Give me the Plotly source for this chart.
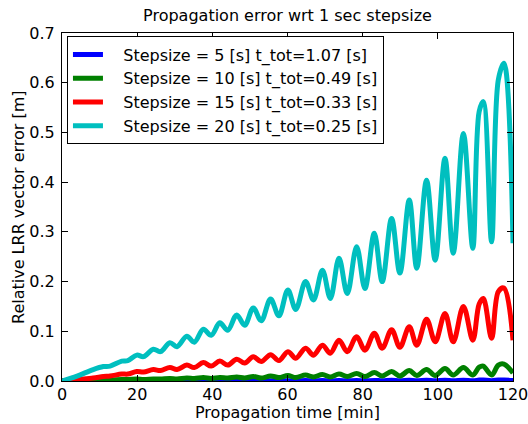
import plotly.graph_objects as go

t = [0, 4, 8.3, 11, 12.8, 15.9, 17.5, 19.9, 21.7, 24.3, 26.2, 28.7, 30.6, 33.2, 35.2,
     37.6, 39.7, 42.0, 44.1, 46.5, 48.6, 50.9, 53.0, 55.5, 57.7, 60.1, 62.2, 64.8,
     66.9, 69.3, 71.4, 73.7, 75.9, 78.4, 80.6, 83.1, 85.2, 87.7, 89.9, 92.4, 94.4,
     97.0, 99.3, 101.9, 104.1, 106.8, 109.3, 111.0, 112.1, 114.3, 116.1, 117.6, 120]

err_5 = [0, 0, 0, 0, 0, 0, 0, 0, 0, 0, 0, 0, 0, 0, 0,
         0, 0, 0.0005, 0, 0.0005, 0, 0.0005, 0, 0.0006, 0.0001, 0.0007, 0.0001, 0.0008,
         0.0002, 0.0009, 0.0002, 0.0010, 0.0003, 0.0011, 0.0003, 0.0012, 0.0004, 0.0013, 0.0004, 0.0014, 0.0005,
         0.0015, 0.0005, 0.0016, 0.0006, 0.0017, 0.0006, 0.0018, 0.0019, 0.0007, 0.0020, 0.0021, 0.0010]

err_10 = [0, 0.001, 0.002, 0.002, 0.002, 0.003, 0.003, 0.004, 0.003, 0.004, 0.004, 0.005, 0.004, 0.006, 0.005,
          0.007, 0.005, 0.007, 0.006, 0.008, 0.006, 0.009, 0.006, 0.010, 0.007, 0.011, 0.007, 0.012,
          0.008, 0.013, 0.008, 0.014, 0.009, 0.015, 0.009, 0.017, 0.010, 0.019, 0.010, 0.021, 0.011,
          0.023, 0.011, 0.025, 0.012, 0.027, 0.012, 0.028, 0.030, 0.012, 0.032, 0.034, 0.016]

err_15 = [0, 0.003, 0.006, 0.009, 0.010, 0.014, 0.014, 0.019, 0.018, 0.023, 0.021, 0.027, 0.023, 0.032, 0.027,
          0.037, 0.030, 0.040, 0.032, 0.044, 0.036, 0.049, 0.039, 0.053, 0.041, 0.059, 0.046, 0.066,
          0.052, 0.072, 0.056, 0.082, 0.059, 0.089, 0.062, 0.096, 0.066, 0.103, 0.068, 0.109, 0.072,
          0.124, 0.079, 0.136, 0.079, 0.150, 0.082, 0.155, 0.166, 0.086, 0.180, 0.187, 0.082]

err_20 = [0, 0.010, 0.023, 0.029, 0.030, 0.040, 0.041, 0.052, 0.049, 0.064, 0.059, 0.077, 0.069, 0.090, 0.078,
          0.104, 0.092, 0.117, 0.102, 0.133, 0.112, 0.147, 0.121, 0.165, 0.131, 0.183, 0.144, 0.200,
          0.163, 0.223, 0.166, 0.247, 0.176, 0.270, 0.186, 0.297, 0.200, 0.327, 0.217, 0.364, 0.227,
          0.404, 0.243, 0.448, 0.257, 0.498, 0.267, 0.542, 0.562, 0.280, 0.606, 0.639, 0.277]

names = ["Stepsize = 5 [s] t_tot=1.07 [s]",
         "Stepsize = 10 [s] t_tot=0.49 [s]",
         "Stepsize = 15 [s] t_tot=0.33 [s]",
         "Stepsize = 20 [s] t_tot=0.25 [s]"]
colors = ["#0000ff", "#008000", "#ff0000", "#00bfbf"]
series = [err_5, err_10, err_15, err_20]

title_text = "Propagation error wrt 1 sec stepsize"
xlabel = "Propagation time [min]"
ylabel = "Relative LRR vector error [m]"

FONT = "DejaVu Sans"
PAD = "\u00a0\u00a0\u00a0"
fig = go.Figure()
for i, (nm, col, ys) in enumerate(zip(names, colors, series)):
    fig.add_trace(go.Scatter(x=t, y=ys, mode="lines", name=PAD + nm, legendgroup=str(i),
                             line=dict(color=col, width=5, shape="spline", smoothing=1.0)))

axis_common = dict(showline=True, linecolor="black", linewidth=1, mirror="allticks",
                   ticks="inside", ticklen=6, tickcolor="black", showgrid=False,
                   zeroline=False, automargin=False, ticklabeloverflow="allow",
                   tickfont=dict(family=FONT, size=16, color="black"))

fig.update_layout(
    width=528, height=424,
    margin=dict(l=62, r=15, t=33, b=43),
    paper_bgcolor="white", plot_bgcolor="white",
    font=dict(family=FONT, size=16, color="black"),
    title=dict(text=title_text, x=0.5, xref="paper",
               xanchor="center", y=1 - 15 / 424, yref="container", yanchor="middle",
               font=dict(family=FONT, size=16, color="black")),
    xaxis=dict(range=[0, 120], dtick=20, ticklabelstandoff=-1, **axis_common),
    yaxis=dict(range=[0, 0.7], dtick=0.1, tickformat=".1f", ticklabelstandoff=3, **axis_common),
    legend=dict(x=0.011, y=0.99, xanchor="left", yanchor="top", bgcolor="white",
                bordercolor="black", borderwidth=1, tracegroupgap=0, itemwidth=30,
                font=dict(family=FONT, size=16, color="black")),
    showlegend=True,
    annotations=[
        dict(text=xlabel, xref="paper", yref="paper", x=0.5, y=-31 / 348,
             yanchor="middle", xanchor="center", showarrow=False,
             font=dict(family=FONT, size=16, color="black")),
        dict(text=ylabel, xref="paper", yref="paper", x=-44 / 451, y=0.5,
             xanchor="center", yanchor="middle", textangle=-90, showarrow=False,
             font=dict(family=FONT, size=16, color="black")),
    ],
)

fig.write_html("out.html")
